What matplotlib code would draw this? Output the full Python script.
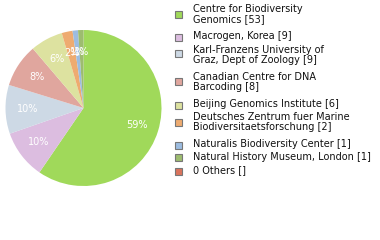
import matplotlib.pyplot as plt
from matplotlib.patches import Rectangle

labels = ["Centre for Biodiversity\nGenomics [53]",
          "Macrogen, Korea [9]",
          "Karl-Franzens University of\nGraz, Dept of Zoology [9]",
          "Canadian Centre for DNA\nBarcoding [8]",
          "Beijing Genomics Institute [6]",
          "Deutsches Zentrum fuer Marine\nBiodiversitaetsforschung [2]",
          "Naturalis Biodiversity Center [1]",
          "Natural History Museum, London [1]",
          "0 Others []"]
counts = [53, 9, 9, 8, 6, 2, 1, 1]
colors = ["#a0d95a", "#dcbde0", "#cdd9e5", "#e0a69e", "#dde2a0",
          "#eeab70", "#9cbce0", "#9dbc6f", "#da735c"]

fig = plt.figure(figsize=(3.8, 2.4), dpi=100)
ax = fig.add_axes([0, 0, 1, 1])

ax.pie(counts, colors=colors[:len(counts)], startangle=90, counterclock=False,
       center=(83.5, 132), radius=78, frame=True,
       autopct=lambda p: f"{int(p)}%", pctdistance=0.72,
       textprops=dict(color="white", fontsize=7))
ax.set_xlim(0, 380)
ax.set_ylim(0, 240)
ax.set_aspect("equal")
ax.axis("off")

# legend
text_y = [9, 36, 50, 77, 104, 117, 144, 157, 170]
box_y = [14, 37, 53, 81, 105, 122, 145, 157, 171]
for lab, col, ty, by in zip(labels, colors, text_y, box_y):
    ax.add_patch(Rectangle((174.5, 240 - by - 3.5), 7, 7, facecolor=col,
                           edgecolor="#777777", lw=0.8))
    ax.text(193, 240 - ty + 5, lab, fontsize=7.0, va="top", ha="left",
            color="#111111", linespacing=1.0)

fig.savefig("out.png", dpi=100)
